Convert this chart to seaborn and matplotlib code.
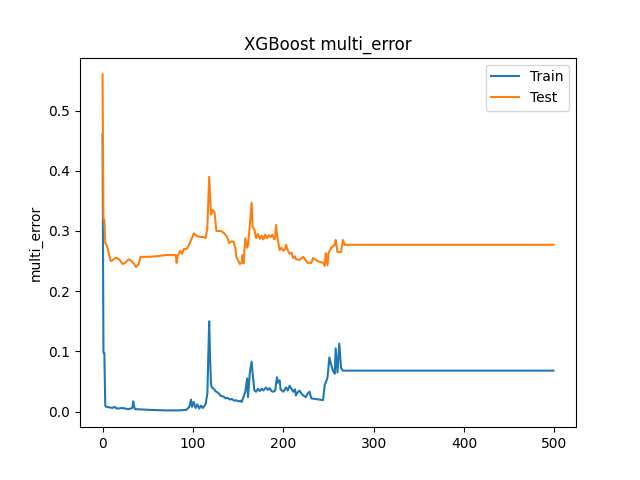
import matplotlib
matplotlib.use("Agg")
import matplotlib.pyplot as plt
import seaborn as sns
import pandas as pd

# Boosting rounds (key points) and metric values
train_rounds = [0, 1, 2, 3, 4, 8, 11, 13, 16, 22, 28, 31, 33, 34, 35, 36, 38, 50, 70, 85,
                93, 96, 98, 99, 100, 101, 103, 105, 107, 109, 111, 112, 114, 116, 118, 119,
                120, 121, 123, 125, 128, 131, 134, 136, 138, 141, 143, 146, 148, 150, 153,
                154, 158, 160, 161, 163, 165, 166, 168, 170, 172, 174, 176, 178, 181, 183,
                185, 187, 189, 191, 193, 194, 196, 197, 200, 203, 205, 207, 209, 211, 213,
                214, 216, 218, 220, 222, 225, 227, 229, 231, 235, 240,
                244, 246, 247, 249, 251, 253, 255, 257, 258, 260, 262, 264, 266, 499]
train_error = [0.46, 0.098, 0.097, 0.01, 0.008, 0.007, 0.006, 0.008, 0.005, 0.006, 0.004,
               0.005, 0.006, 0.017, 0.008, 0.004, 0.004, 0.003, 0.002, 0.002,
               0.003, 0.008, 0.02, 0.008, 0.012, 0.016, 0.006, 0.012, 0.005, 0.01, 0.006,
               0.008, 0.012, 0.03, 0.15, 0.09,
               0.046, 0.04, 0.038, 0.034, 0.031, 0.026, 0.025, 0.022, 0.023, 0.02, 0.021,
               0.018, 0.019, 0.017, 0.018,
               0.016, 0.033, 0.055, 0.024, 0.065, 0.083, 0.065, 0.035, 0.033, 0.038, 0.034,
               0.038, 0.035, 0.04, 0.036,
               0.039, 0.034, 0.033, 0.035, 0.057, 0.048, 0.052, 0.037, 0.033, 0.04, 0.035,
               0.043, 0.038, 0.033, 0.037,
               0.027, 0.032, 0.035, 0.03, 0.027, 0.024, 0.03, 0.033, 0.022, 0.021, 0.02,
               0.019, 0.045, 0.048, 0.057, 0.09, 0.078, 0.068, 0.063, 0.105, 0.065, 0.113,
               0.072, 0.068, 0.068]

test_rounds = [0, 1, 2, 3, 5, 7, 9, 12, 14, 16, 19, 22, 25, 29, 32, 35, 37, 40, 42, 50, 60,
               70, 81, 82, 83, 86, 88, 90, 93, 95, 98, 101, 104, 108, 112, 114, 116, 118,
               120, 122, 124, 126, 131, 134, 138, 140, 143, 145, 147, 148, 152, 154, 155,
               156, 158, 160, 161, 163, 165, 166, 168, 170, 172, 174, 176, 178, 180, 182,
               184, 186, 188, 190, 191, 192, 193, 194, 196, 198, 200, 202, 203, 205, 207,
               209, 211, 213, 214, 218, 222, 227, 231, 233,
               238, 244, 246, 247, 249, 250, 253, 257, 258, 260, 264, 266, 268, 499]
test_error = [0.56, 0.32, 0.318, 0.28, 0.275, 0.262, 0.25, 0.252, 0.255, 0.255, 0.252, 0.245,
              0.247, 0.253, 0.25, 0.245, 0.24, 0.245, 0.257, 0.257, 0.258,
              0.26, 0.26, 0.247, 0.258, 0.267, 0.262, 0.27, 0.27, 0.275, 0.285, 0.296, 0.292,
              0.29, 0.29, 0.288, 0.305, 0.39,
              0.327, 0.335, 0.33, 0.30, 0.30, 0.297, 0.29, 0.28, 0.283, 0.282, 0.272, 0.257,
              0.245, 0.248, 0.26,
              0.246, 0.288, 0.272, 0.277, 0.31, 0.347, 0.307, 0.302, 0.288, 0.295, 0.287,
              0.292, 0.286, 0.294, 0.288,
              0.293, 0.29, 0.294, 0.286, 0.29, 0.31, 0.295, 0.285, 0.268, 0.272, 0.267,
              0.27, 0.277, 0.268, 0.262,
              0.264, 0.255, 0.258, 0.253, 0.252, 0.257, 0.247, 0.247, 0.255,
              0.25, 0.247, 0.242, 0.263, 0.243, 0.263, 0.272, 0.277, 0.285, 0.265, 0.265,
              0.285, 0.277, 0.277]

series_labels = ["Train", "Test"]
title_text = "XGBoost multi_error"
y_label = "multi_error"

plt.rcdefaults()
fig, ax = plt.subplots(figsize=(6.4, 4.8), dpi=100)

train_df = pd.DataFrame({"round": train_rounds, "value": train_error})
test_df = pd.DataFrame({"round": test_rounds, "value": test_error})

sns.lineplot(data=train_df, x="round", y="value", ax=ax, color="#1f77b4",
             label=series_labels[0], linewidth=1.5)
sns.lineplot(data=test_df, x="round", y="value", ax=ax, color="#ff7f0e",
             label=series_labels[1], linewidth=1.5)

ax.set_title(title_text)
ax.set_ylabel(y_label)
ax.set_xlabel("")
ax.legend(loc="upper right")

fig.savefig("out.png", dpi=100)
